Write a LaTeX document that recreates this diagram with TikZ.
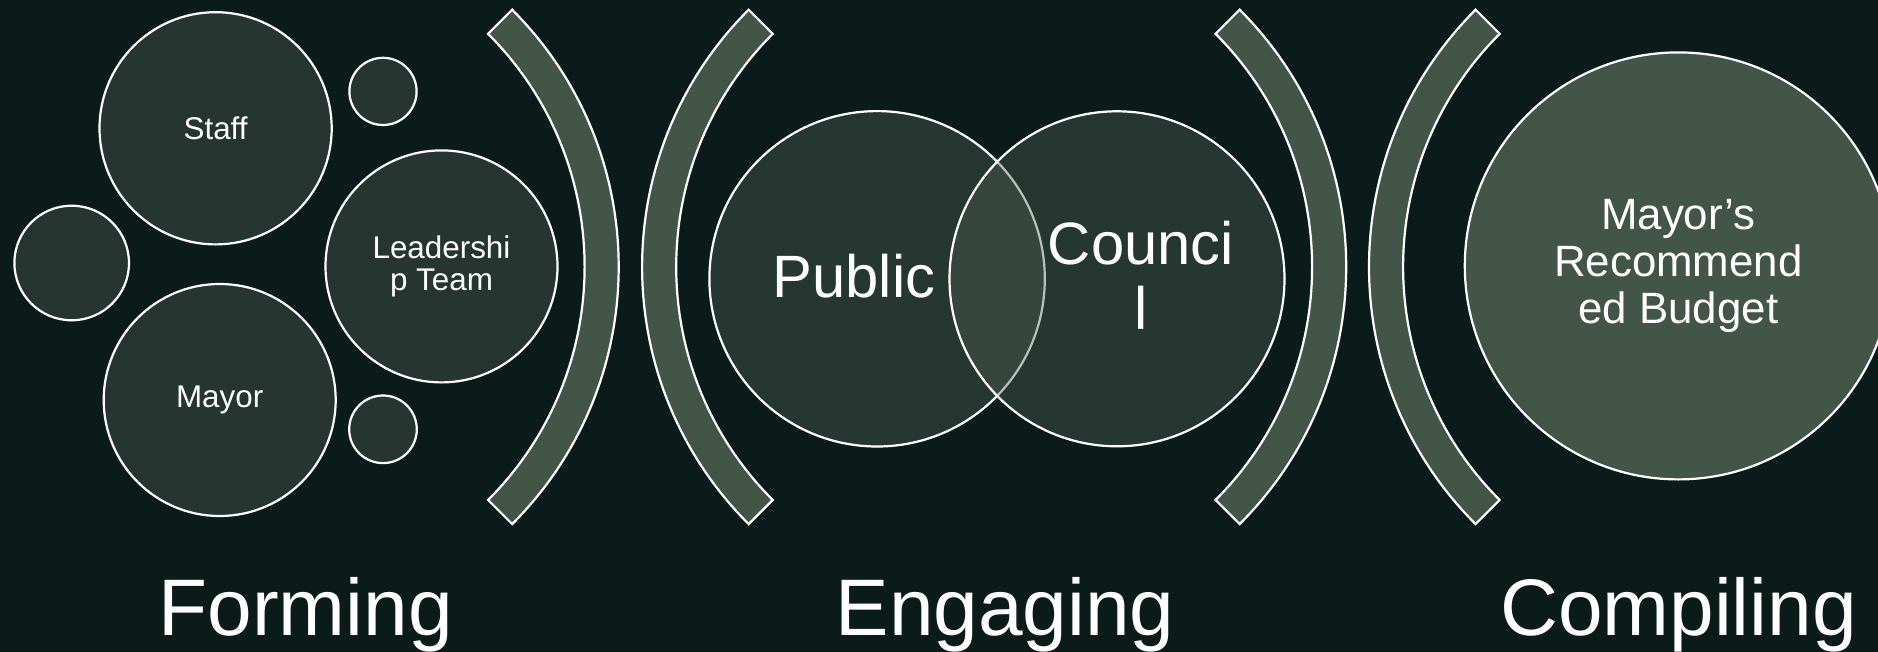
\documentclass[tikz,border=0pt]{standalone}
\usepackage{fontspec}
\setmainfont{Liberation Sans}
\definecolor{bgc}{RGB}{10,27,25}
\definecolor{circfill}{RGB}{39,53,48}
\definecolor{bandfill}{RGB}{67,84,72}
\definecolor{vennfill}{RGB}{80,96,86}
\begin{document}
\begin{tikzpicture}[x=1bp,y=-1bp,
  every node/.style={text=white, inner sep=0pt},
  bubble/.style={circle, draw=white, line width=2.2bp, fill=circfill, align=center,
    font=\fontsize{31.5}{32}\selectfont},
  band/.style={draw=white, line width=2.2bp, fill=bandfill, line join=miter},
  venn/.style={circle, draw=white, line width=2.2bp, fill=vennfill, fill opacity=0.4, draw opacity=1},
  bigtext/.style={font=\fontsize{60}{65}\selectfont, align=center},
  stage/.style={font=\fontsize{80.5}{90}\selectfont, anchor=base}]
\fill[bgc] (0,0) rectangle (1878,652);
\useasboundingbox (0,0) rectangle (1878,652);
\clip (0,0) rectangle (1878,652);

% Forming group
\node[bubble, minimum size=232.2bp] (staff) at (215.6,128.3) {Staff};
\node[bubble, minimum size=67.2bp] (smalltop) at (383,91.4) {};
\node[bubble, minimum size=114.6bp] (leftc) at (71.7,263) {};
\node[bubble, minimum size=232bp] (lead) at (441.5,266.4) {Leadershi\\p Team};
\node[bubble, minimum size=232bp] (mayor) at (219.7,400) {Mayor};
\node[bubble, minimum size=67.6bp] (smallbot) at (383,429.3) {};

% brackets
\draw[band, shift={(255,266.9)}] (-45:363.7) arc[start angle=-45, end angle=45, radius=363.7]
  -- (45:329.6) arc[start angle=45, end angle=-45, radius=329.6] -- cycle;
\draw[band, shift={(1005.8,266.9)}] (135:363.7) arc[start angle=135, end angle=225, radius=363.7]
  -- (225:329.6) arc[start angle=225, end angle=135, radius=329.6] -- cycle;
\draw[band, shift={(982.5,266.9)}] (-45:363.7) arc[start angle=-45, end angle=45, radius=363.7]
  -- (45:329.6) arc[start angle=45, end angle=-45, radius=329.6] -- cycle;
\draw[band, shift={(1732.7,266.9)}] (135:363.7) arc[start angle=135, end angle=225, radius=363.7]
  -- (225:329.6) arc[start angle=225, end angle=135, radius=329.6] -- cycle;

% Engaging (Venn)
\node[venn, minimum size=335.4bp] (public) at (877.1,278.8) {};
\node[venn, minimum size=335bp] (council) at (1117,278.8) {};
\node[bigtext, anchor=base] (publict) at (854,297.9) {Public};
\node[bigtext] (councilt) at (1141,275.6) {Counci\\l};

% Compiling
\node[circle, draw=white, line width=2.2bp, fill=bandfill, minimum size=427bp, align=center,
  font=\fontsize{44}{47}\selectfont] (budget) at (1678.3,265.9) {Mayor’s\\Recommend\\ed Budget};

% stage labels
\node[stage] (forming) at (305.7,635) {Forming};
\node[stage] (engaging) at (1005,635) {Engaging};
\node[stage] (compiling) at (1678.4,635) {Compiling};
\end{tikzpicture}
\end{document}
